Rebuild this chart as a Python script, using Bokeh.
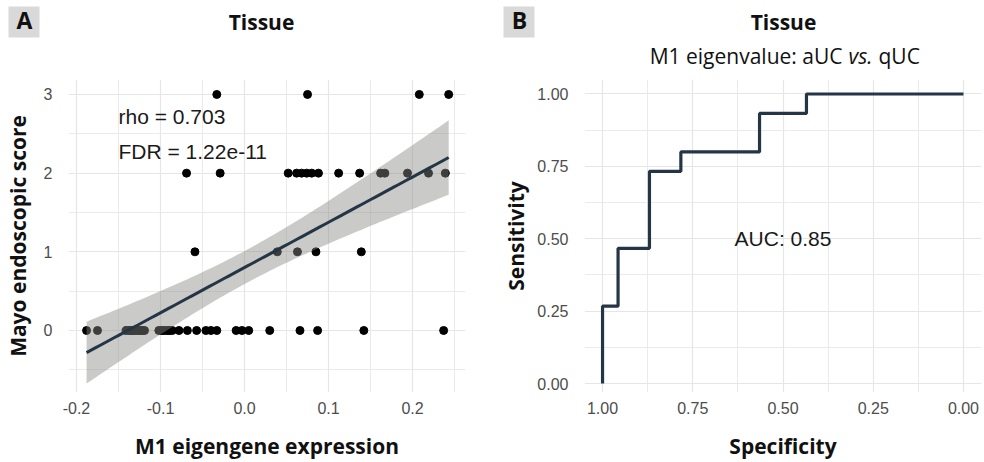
import numpy as np
from bokeh.plotting import figure
from bokeh.models import Range1d, FixedTicker
from bokeh.core.properties import value
from bokeh.layouts import row, column
from bokeh.embed import file_html
from bokeh.resources import INLINE

# ---------------- Panel A data: M1 eigengene expression by Mayo endoscopic score
eig_score0 = [-0.188, -0.175, -0.141, -0.138, -0.136, -0.134, -0.132, -0.130, -0.127,
              -0.125, -0.123, -0.121, -0.119, -0.102, -0.099, -0.097, -0.094, -0.091,
              -0.089, -0.086, -0.078, -0.068, -0.057, -0.046, -0.040, -0.033, -0.010,
              -0.003, 0.005, 0.030, 0.066, 0.087, 0.142, 0.237]
eig_score1 = [-0.059, 0.039, 0.063, 0.085, 0.139]
eig_score2 = [-0.069, -0.029, 0.052, 0.062, 0.068, 0.074, 0.080, 0.088, 0.112, 0.137,
              0.162, 0.167, 0.194, 0.219, 0.239]
eig_score3 = [-0.033, 0.075, 0.208, 0.243]
scores = [0, 1, 2, 3]
rho_text = "rho = 0.703"
fdr_text = "FDR = 1.22e-11"

xA_ticks = [-0.2, -0.1, 0.0, 0.1, 0.2]
xA_labels = ["-0.2", "-0.1", "0.0", "0.1", "0.2"]
xA_minor = [-0.25, -0.15, -0.05, 0.05, 0.15, 0.25]
yA_ticks = [0, 1, 2, 3]
yA_labels = ["0", "1", "2", "3"]
yA_minor = [-0.5, 0.5, 1.5, 2.5]

# ---------------- Panel B data: ROC curve (specificity, sensitivity)
roc_spec = [1.0, 1.0, 0.957, 0.957, 0.870, 0.870, 0.783, 0.783, 0.565, 0.565, 0.435, 0.435, 0.0]
roc_sens = [0.0, 0.267, 0.267, 0.467, 0.467, 0.733, 0.733, 0.800, 0.800, 0.933, 0.933, 1.0, 1.0]
auc_text = "AUC: 0.85"
rocB_ticks = [0.0, 0.25, 0.5, 0.75, 1.0]
rocB_labels = ["0.00", "0.25", "0.50", "0.75", "1.00"]
rocB_minor = [-0.125, 0.125, 0.375, 0.625, 0.875, 1.125]

# ---------------- header texts
panel_letters = ["A", "B"]
panel_titles = ["Tissue", "Tissue"]
subtitle_parts = ["M1 eigenvalue: aUC", "vs.", "qUC"]

BOLD = "Open Sans"
TICKF = "Liberation Sans"
LINE_COL = "#243646"
GRID_COL = "#e6e6e6"
HEAD_H = 79
BOTTOM = 70


def style(p, xt, xl, xm, yt, yl, ym, xlabel, ylabel, y_title_standoff):
    p.outline_line_color = None
    p.background_fill_color = "white"
    p.border_fill_color = "white"
    p.xaxis.ticker = FixedTicker(ticks=xt, minor_ticks=xm)
    p.yaxis.ticker = FixedTicker(ticks=yt, minor_ticks=ym)
    p.xaxis.major_label_overrides = {t: l for t, l in zip(xt, xl)}
    p.yaxis.major_label_overrides = {t: l for t, l in zip(yt, yl)}
    for ax in (p.xaxis, p.yaxis):
        ax.axis_line_color = None
        ax.major_tick_line_color = None
        ax.minor_tick_line_color = None
        ax.major_label_text_font = TICKF
        ax.major_label_text_font_size = "16px"
        ax.major_label_text_color = "#4d4d4d"
        ax.axis_label_text_font = BOLD
        ax.axis_label_text_font_style = "bold"
        ax.axis_label_text_font_size = "21px"
        ax.axis_label_text_color = "#111111"
    p.xaxis.axis_label = xlabel
    p.yaxis.axis_label = ylabel
    p.xaxis.major_label_text_line_height = 0.9
    p.xaxis.axis_label_text_line_height = 0.9
    p.xaxis.major_label_standoff = 3
    p.yaxis.major_label_standoff = 10
    p.xaxis.axis_label_standoff = 15
    p.yaxis.axis_label_standoff = y_title_standoff
    for g in (p.xgrid, p.ygrid):
        g.grid_line_color = GRID_COL
        g.grid_line_width = 1.2
        g.minor_grid_line_color = GRID_COL
        g.minor_grid_line_width = 0.8


# ================= Header strip (panel letters, titles, subtitle) =================
head = figure(width=984, height=HEAD_H, x_range=Range1d(0, 984), y_range=Range1d(HEAD_H, 0),
              output_backend="svg", toolbar_location=None,
              min_border=0, min_border_left=0, min_border_right=0, min_border_top=0, min_border_bottom=0)
head.axis.visible = False
head.grid.visible = False
head.outline_line_color = None
head.quad(left=[8, 503], right=[39, 534], top=[6, 6], bottom=[37, 37],
          fill_color="#d9d9d9", line_color=None)
head.text(x=[24, 519], y=[19, 19], text=panel_letters, text_font=value(BOLD),
          text_font_style="bold", text_font_size="23px", text_color="#111111",
          text_align="center", text_baseline="alphabetic")
head.text(x=[261, 783], y=[21, 21], text=panel_titles, text_font=value(BOLD),
          text_font_style="bold", text_font_size="21px", text_color="#111111",
          text_align="center", text_baseline="alphabetic")
sub_kw = dict(text_font=value(BOLD), text_font_size="21px", text_color="#111111",
              text_baseline="alphabetic")
head.text(x=[842], y=[55], text=[subtitle_parts[0]], text_align="right", **sub_kw)
head.text(x=[848], y=[55], text=[subtitle_parts[1]], text_font_style="italic", text_align="left", **sub_kw)
head.text(x=[878], y=[55], text=[subtitle_parts[2]], text_align="left", **sub_kw)

# ================= Panel A =================
xs = np.array(eig_score0 + eig_score1 + eig_score2 + eig_score3)
ys = np.array([scores[0]] * len(eig_score0) + [scores[1]] * len(eig_score1)
              + [scores[2]] * len(eig_score2) + [scores[3]] * len(eig_score3), dtype=float)

pA = figure(width=490, height=462 - HEAD_H, x_range=Range1d(-0.2095, 0.263), y_range=Range1d(-0.788, 3.19),
            output_backend="svg", toolbar_location=None,
            min_border_left=68, min_border_right=25, min_border_top=0, min_border_bottom=BOTTOM)
style(pA, xA_ticks, xA_labels, xA_minor, yA_ticks, yA_labels, yA_minor,
      "M1 eigengene expression", "Mayo endoscopic score", 9)

pA.scatter(xs, ys, size=8, color="black")

# linear fit with 95% confidence band (as geom_smooth(method="lm"))
n = len(xs)
slope, intercept = np.polyfit(xs, ys, 1)
xfit = np.linspace(xs.min(), xs.max(), 80)
yfit = intercept + slope * xfit
resid = ys - (intercept + slope * xs)
s = np.sqrt(np.sum(resid ** 2) / (n - 2))
sxx = np.sum((xs - xs.mean()) ** 2)
se = s * np.sqrt(1.0 / n + (xfit - xs.mean()) ** 2 / sxx)
tq = 2.01
pA.varea(x=xfit, y1=yfit - tq * se, y2=yfit + tq * se, fill_color="#8a8a86", fill_alpha=0.45)
pA.line(xfit, yfit, line_color=LINE_COL, line_width=3)

pA.text(x=[-0.15, -0.15], y=[2.72, 2.28], text=[rho_text, fdr_text], text_font=value(TICKF),
        text_font_size="21px", text_color="#1a1a1a", text_baseline="middle")

# ================= Panel B =================
pB = figure(width=494, height=462 - HEAD_H, x_range=Range1d(1.05, -0.05), y_range=Range1d(-0.031, 1.05),
            output_backend="svg", toolbar_location=None,
            min_border_left=94, min_border_right=3, min_border_top=0, min_border_bottom=BOTTOM)
style(pB, rocB_ticks, rocB_labels, rocB_minor, rocB_ticks, rocB_labels, rocB_minor,
      "Specificity", "Sensitivity", 4)
pB.line(roc_spec, roc_sens, line_color=LINE_COL, line_width=3.2)
pB.text(x=[0.5], y=[0.5], text=[auc_text], text_font=value(TICKF),
        text_font_size="21px", text_color="#1a1a1a", text_align="center", text_baseline="middle")

layout = column(head, row(pA, pB, spacing=0), spacing=0)
open("out.html", "w").write(file_html(layout, INLINE))
